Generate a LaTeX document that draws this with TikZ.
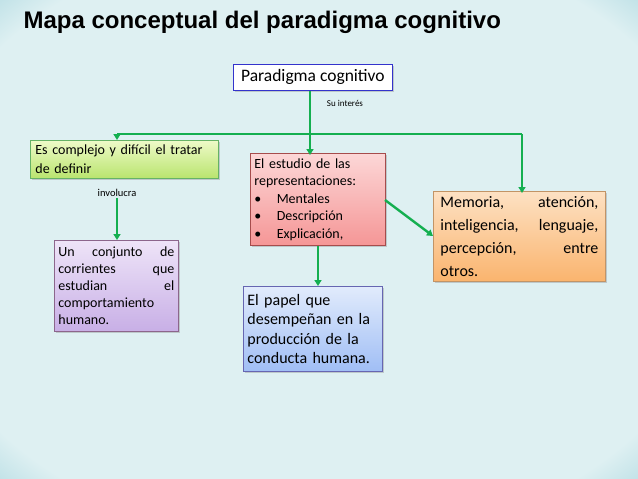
\documentclass[tikz,border=0pt]{standalone}
\usepackage{fontspec}
\setmainfont{Carlito}
\newfontfamily\titlefont{Liberation Sans}
\usetikzlibrary{shadows,arrows.meta}
\definecolor{bgin}{RGB}{222,240,242}
\definecolor{bgmid}{RGB}{140,200,212}
\definecolor{bgout}{RGB}{25,130,158}
\definecolor{arr}{RGB}{20,175,80}
\definecolor{gtop}{RGB}{238,250,200}
\definecolor{gbot}{RGB}{185,228,110}
\definecolor{rtop}{RGB}{252,215,215}
\definecolor{rbot}{RGB}{245,150,150}
\definecolor{otop}{RGB}{253,225,195}
\definecolor{obot}{RGB}{250,180,110}
\definecolor{ptop}{RGB}{238,228,248}
\definecolor{pbot}{RGB}{200,175,230}
\definecolor{btop}{RGB}{225,235,252}
\definecolor{bbot}{RGB}{160,190,245}
\pgfdeclareradialshading{bgshade}{\pgfpoint{0bp}{0bp}}{color(0bp)=(bgin); color(32bp)=(bgin); color(42bp)=(bgmid); color(52bp)=(bgout); color(72bp)=(bgout)}
\tikzset{
 box/.style={draw=#1, line width=0.8pt, inner sep=5pt, anchor=north west, drop shadow={opacity=0.35,shadow xshift=1.5pt,shadow yshift=-1.5pt}},
 conn/.style={draw=arr, line width=2.4pt},
 arrw/.style={conn, -{Triangle[width=7pt,length=6pt]}},
 lbl/.style={font=\fontsize{9}{10}\selectfont, inner sep=1pt}
}
\begin{document}
\begin{tikzpicture}[x=1pt,y=-1pt]
\useasboundingbox (0,0) rectangle (638,479);
\shade[shading=bgshade] (0,0) rectangle (638,479);
\node[anchor=west, font=\titlefont\bfseries\fontsize{24}{28}\selectfont] (title) at (20,22) {Mapa conceptual del paradigma cognitivo};
\node[box={blue!60!gray}, fill=white, minimum width=159pt, minimum height=26pt, inner sep=2pt, font=\fontsize{17.5}{20}\selectfont] (pc) at (233,64) {Paradigma cognitivo};
\node[box={green!50!black!60}, top color=gtop, bottom color=gbot, minimum width=188pt, minimum height=38pt, text width=178pt, align=left, inner sep=4pt, font=\fontsize{14}{19}\selectfont] (g) at (30,140) {Es complejo y difícil el tratar de definir};
\node[box={red!50!black!70}, top color=rtop, bottom color=rbot, minimum width=135pt, minimum height=92pt, text width=127pt, align=left, inner sep=4pt, font=\fontsize{14}{17.5}\selectfont] (r) at (250,153) {El estudio de las\\representaciones:\\[0pt]
\textbullet\hspace{1.1em}Mentales\\\textbullet\hspace{1.1em}Descripción\\\textbullet\hspace{1.1em}Explicación,};
\node[box={orange!60!black!60}, top color=otop, bottom color=obot, minimum width=172pt, minimum height=85pt, text width=158pt, align=justify, font=\fontsize{16}{23}\selectfont] (o) at (433,191) {Memoria,\hfill atención,\\ inteligencia,\hfill lenguaje,\\ percepción,\hfill entre\\ otros.};
\node[box={violet!50!black!60}, top color=ptop, bottom color=pbot, minimum width=124pt, minimum height=91pt, text width=116pt, align=left, inner sep=4pt, font=\fontsize{14}{17}\selectfont] (p) at (54,240) {Un\hfill conjunto\hfill de\\corrientes\hfill que\\estudian\hfill el\\comportamiento\\humano.};
\node[box={blue!50!black!60}, top color=btop, bottom color=bbot, minimum width=139pt, minimum height=85pt, text width=131pt, align=left, inner sep=4pt, font=\fontsize{16}{19.5}\selectfont] (b) at (243,286) {El papel que\\desempeñan en la\\producción de la\\conducta humana.};
\coordinate (j) at (310,134);
\coordinate (jl) at (117,134);
\coordinate (jr) at (522,134);
\draw[conn] (pc.south -| j) -- (j);
\draw[conn] (jl) -- (jr);
\draw[arrw] (jl) -- (g.north -| jl);
\draw[arrw] (j) -- ([yshift=-2pt]r.north -| j);
\draw[arrw] (jr) -- ([yshift=-2pt]o.north -| jr);
\node[lbl] (si) at (345,103) {Su interés};
\node[lbl, font=\fontsize{10.5}{12}\selectfont] (inv) at (117,193) {involucra};
\draw[arrw] (inv.south) -- (p.north -| inv);
\draw[arrw] (r.south -| 318,0) -- (b.north -| 318,0);
\draw[arrw] (385,200) -- (o.west |- 0,236);
\end{tikzpicture}
\end{document}
